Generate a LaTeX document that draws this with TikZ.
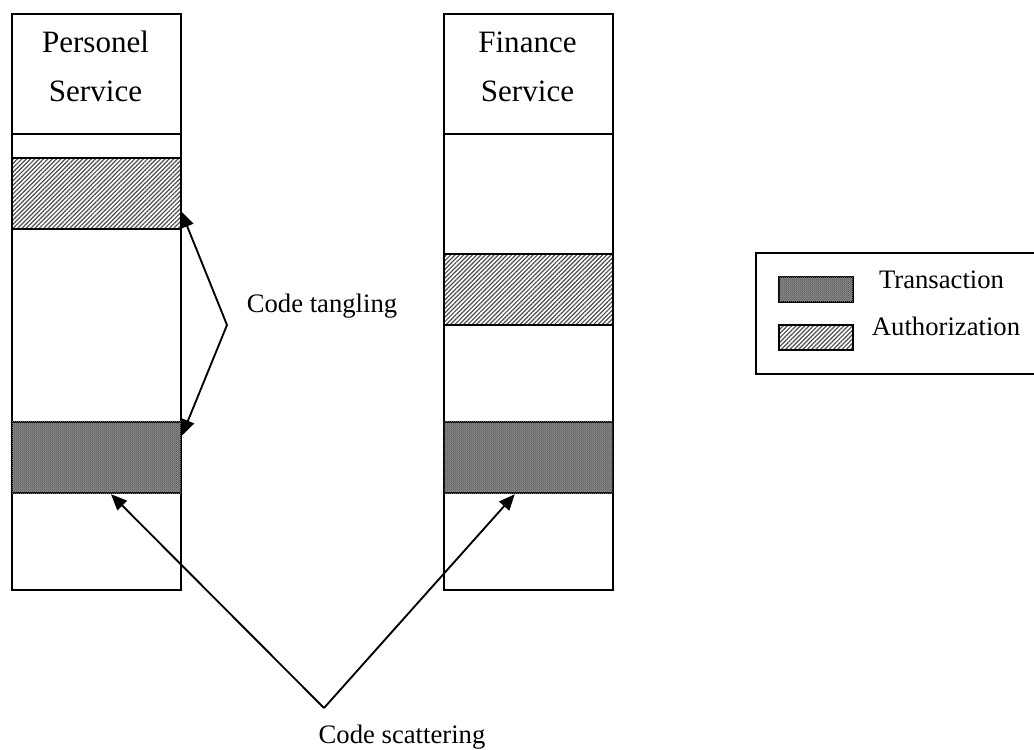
\documentclass[tikz,border=0pt]{standalone}
\usepackage{fontspec}
\setmainfont{Liberation Serif}
\usetikzlibrary{arrows.meta,patterns,patterns.meta,calc}

% fine checkerboard used for the transaction blocks
\pgfdeclarepatternformonly{finechecker}{\pgfpointorigin}{\pgfqpoint{1.6pt}{1.6pt}}{\pgfqpoint{1.6pt}{1.6pt}}{%
  \pgfpathrectangle{\pgfpointorigin}{\pgfqpoint{0.8pt}{0.8pt}}%
  \pgfpathrectangle{\pgfqpoint{0.8pt}{0.8pt}}{\pgfqpoint{0.8pt}{0.8pt}}%
  \pgfusepath{fill}}

\definecolor{transgray}{RGB}{132,132,132}

\begin{document}
\begin{tikzpicture}[x=0.75pt,y=-0.75pt,
  outline/.style={draw, line width=1.4pt, inner sep=0pt, anchor=north west},
  column/.style={outline, minimum width=126.75pt, minimum height=432pt},
  header/.style={outline, minimum width=126.75pt, minimum height=90pt},
  block/.style={outline, minimum width=126.75pt, minimum height=53.5pt},
  trans/.style={fill=transgray, postaction={pattern=finechecker, pattern color=black!60}},
  auth/.style={pattern={Lines[angle=45,distance=2.3pt,line width=0.9pt]}, pattern color=black!70},
  swatch/.style={outline, minimum width=55.5pt, minimum height=18.75pt},
  hdr/.style={font=\fontsize{23.3pt}{28pt}\selectfont, inner sep=0pt, anchor=base},
  lbl/.style={font=\fontsize{20pt}{24pt}\selectfont, inner sep=0pt, anchor=base},
  arrow/.style={line width=1.4pt, -{Triangle[length=12pt,width=10pt]}}]

\useasboundingbox (0,0) rectangle (1034,749);

% Personel service column
\node[column] (pcol) at (11,13) {};
\node[header] (phead) at (11,13) {};
\node[hdr] (ptitle) at (95.5,53) {Personel};
\node[hdr] (psub) at (95.5,101) {Service};
\node[block, auth] (pauth) at (11,157) {};
\node[block, trans] (ptrans) at (11,421) {};

% Finance service column
\node[column] (fcol) at (443,13) {};
\node[header] (fhead) at (443,13) {};
\node[hdr] (ftitle) at (527.5,53) {Finance};
\node[hdr] (fsub) at (527.5,101) {Service};
\node[block, auth] (fauth) at (443,253) {};
\node[block, trans] (ftrans) at (443,421) {};

% legend (its right side runs past the page edge)
\node[outline, minimum width=213pt, minimum height=90.75pt] (legend) at (755,252) {};
\node[swatch, trans] (ltrans) at (778,276) {};
\node[swatch, auth] (lauth) at (778,324) {};
\node[lbl] (ltranstxt) at (941.5,288) {Transaction};
\node[lbl] (lauthtxt) at (946,335) {Authorization};

% code tangling
\coordinate (tang) at (227,325);
\node[lbl] (tangtxt) at (322,312) {Code tangling};
\draw[arrow] (tang) -- ($(pauth.south east)!0.25!(pauth.north east)$);
\draw[arrow] (tang) -- ($(ptrans.north east)!0.2!(ptrans.south east)$);

% code scattering
\coordinate (scat) at (324,708);
\node[lbl] (scattxt) at (402,743) {Code scattering};
\draw[arrow] (scat) -- ($(ptrans.south west)!0.585!(ptrans.south east)$);
\draw[arrow] (scat) -- ($(ftrans.south west)!0.42!(ftrans.south east)$);

\end{tikzpicture}
\end{document}
